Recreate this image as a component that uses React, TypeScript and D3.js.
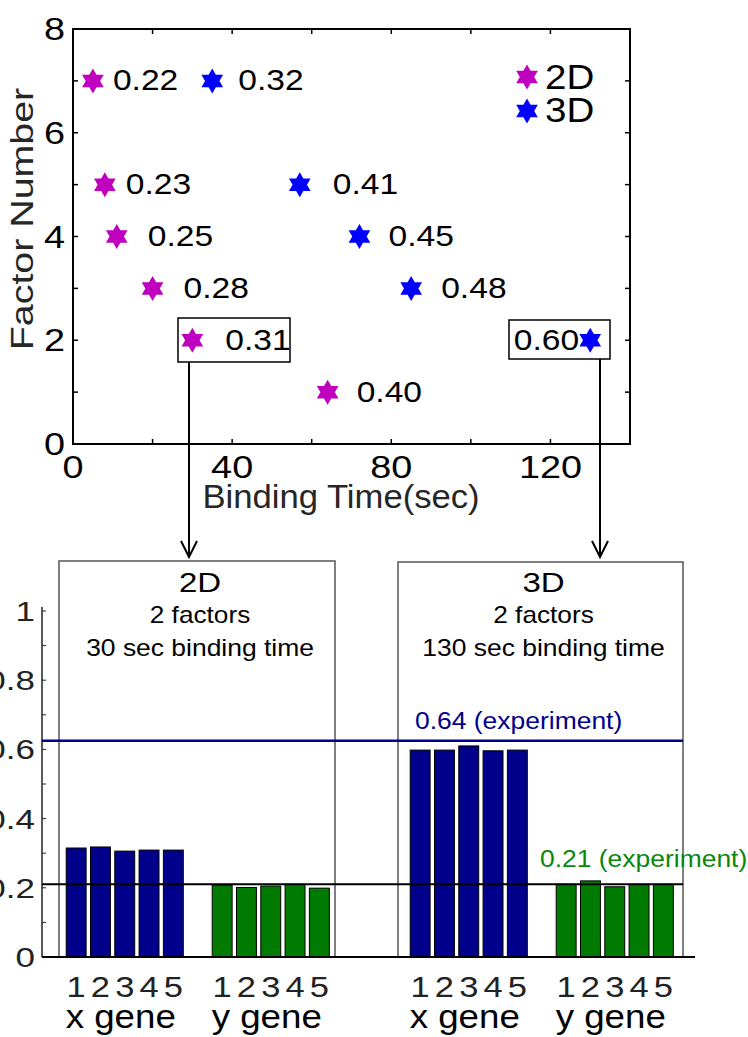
import { scaleLinear, scaleBand, lineRadial, curveLinearClosed, range } from "d3";

// top scatter: binding time vs factor number, labelled with correlation
const time2D = [5, 8, 11, 20, 30, 64];
const factors2D = [7, 5, 4, 3, 2, 1];
const corr2D = ["0.22", "0.23", "0.25", "0.28", "0.31", "0.40"];
const time3D = [35, 57, 72, 85, 130];
const factors3D = [7, 5, 4, 3, 2];
const corr3D = ["0.32", "0.41", "0.45", "0.48", "0.60"];
const xTickLabels = [0, 40, 80, 120];
const yTickLabels = [0, 2, 4, 6, 8];

// bottom bars
const runs = ["1", "2", "3", "4", "5"];
const genes = ["x gene", "y gene"];
const bars2Dx = [0.315, 0.318, 0.306, 0.309, 0.309];
const bars2Dy = [0.208, 0.201, 0.205, 0.21, 0.199];
const bars3Dx = [0.598, 0.598, 0.61, 0.596, 0.598];
const bars3Dy = [0.21, 0.22, 0.203, 0.21, 0.21];
const expX = 0.625;
const expY = 0.21;
const barTicks = [0, 0.2, 0.4, 0.6, 0.8, 1];

// label offsets from the star centre (annotation placement)
const gap2D = [20, 21, 31, 31, 33, 29];
const gap3D = [26, 33, 29, 30, -11];

const MAGENTA = "#bf00bf";
const BLUE = "#0000ff";
const NAVY = "#00008b";
const GREEN = "#007a00";

const star = (R: number) => {
  const r = R / Math.sqrt(3);
  const pts = range(12).map((i) => [(i * Math.PI) / 6, i % 2 ? r : R] as [number, number]);
  return lineRadial().curve(curveLinearClosed)(pts) as string;
};
const STAR = star(12.5);

function T({ x, y, size, sx = 1, anchor = "start", fill = "#000", rotate = 0, children }: any) {
  return (
    <text
      transform={`translate(${x},${y})${rotate ? ` rotate(${rotate})` : ""} scale(${sx},1)`}
      fontSize={size}
      textAnchor={anchor}
      fill={fill}
    >
      {children}
    </text>
  );
}

function Scatter() {
  const x = scaleLinear().domain([0, 140]).range([73, 630]);
  const y = scaleLinear().domain([0, 8]).range([444, 29]);
  const xt = range(20, 140, 20);
  const yt = range(1, 8);
  return (
    <g>
      <rect x={73} y={29} width={557} height={415} fill="none" stroke="#000" strokeWidth={2} />
      {xt.map((t) => (
        <g key={"xt" + t} stroke="#000" strokeWidth={1.5}>
          <line x1={x(t)} x2={x(t)} y1={444} y2={439} />
          <line x1={x(t)} x2={x(t)} y1={29} y2={34} />
        </g>
      ))}
      {yt.map((t) => (
        <g key={"yt" + t} stroke="#000" strokeWidth={1.5}>
          <line x1={73} x2={78} y1={y(t)} y2={y(t)} />
          <line x1={630} x2={625} y1={y(t)} y2={y(t)} />
        </g>
      ))}
      {xTickLabels.map((t) => (
        <T key={"xl" + t} x={x(t)} y={478} size={31} sx={1.22} anchor="middle">
          {t}
        </T>
      ))}
      {yTickLabels.map((t) => (
        <T key={"yl" + t} x={65} y={y(t) + 11} size={31} sx={1.22} anchor="end">
          {t}
        </T>
      ))}
      <T x={33} y={219} size={32} sx={1.23} rotate={-90} anchor="middle" fill="#262626">
        Factor Number
      </T>
      <T x={341} y={508} size={33} sx={1.05} anchor="middle" fill="#262626">
        Binding Time(sec)
      </T>

      {time2D.map((t, i) => (
        <g key={"p2" + i}>
          <path d={STAR} transform={`translate(${x(t)},${y(factors2D[i])})`} fill={MAGENTA} />
          <T x={x(t) + gap2D[i]} y={y(factors2D[i]) + 9.5} size={30} sx={1.12}>
            {corr2D[i]}
          </T>
        </g>
      ))}
      {time3D.map((t, i) => (
        <g key={"p3" + i}>
          <path d={STAR} transform={`translate(${x(t)},${y(factors3D[i])})`} fill={BLUE} />
          <T
            x={x(t) + gap3D[i]}
            y={y(factors3D[i]) + 9.5}
            size={30}
            sx={1.12}
            anchor={gap3D[i] < 0 ? "end" : "start"}
          >
            {corr3D[i]}
          </T>
        </g>
      ))}

      {/* legend */}
      <path d={STAR} transform="translate(527,77)" fill={MAGENTA} />
      <path d={STAR} transform="translate(527,111)" fill={BLUE} />
      <T x={545} y={89} size={35} sx={1.1}>2D</T>
      <T x={545} y={122} size={35} sx={1.1}>3D</T>

      {/* callout boxes and arrows */}
      <rect x={178} y={318} width={112} height={44} fill="none" stroke="#000" strokeWidth={1.5} />
      <rect x={509} y={320} width={101} height={39} fill="none" stroke="#000" strokeWidth={1.5} />
      <g stroke="#000" strokeWidth={2} fill="none">
        <line x1={189} x2={189} y1={362} y2={556} />
        <polyline points="181,541 189,557 197,541" />
        <line x1={600} x2={600} y1={359} y2={556} />
        <polyline points="592,541 600,557 608,541" />
      </g>
    </g>
  );
}

function Panel({ left, boxL, boxR, top, title, sub, time, xs, ys }: any) {
  const yb = scaleLinear().domain([0, 1]).range([957, 611]);
  const gs = scaleBand().domain(genes).range([0, 267.5]).paddingInner(0.168);
  const bs = scaleBand().domain(runs).range([0, gs.bandwidth()]).paddingInner(0.18).paddingOuter(0.09);
  const series = [xs, ys];
  const fills = [NAVY, GREEN];
  const cx = (boxL + boxR) / 2 + 3;
  return (
    <g>
      <path d={`M${boxL},957V${top}H${boxR}V957`} fill="none" stroke="#555" strokeWidth={1.5} />
      <T x={cx} y={592} size={28} sx={1.18} anchor="middle">{title}</T>
      <T x={cx} y={623} size={23} sx={1.14} anchor="middle">{sub}</T>
      <T x={cx} y={656} size={23} sx={1.15} anchor="middle">{time}</T>
      {genes.map((g, gi) => (
        <g key={g} transform={`translate(${left + (gs(g) as number)},0)`}>
          {runs.map((r, i) => (
            <rect
              key={r}
              x={bs(r)}
              y={yb(series[gi][i])}
              width={bs.bandwidth()}
              height={957 - yb(series[gi][i])}
              fill={fills[gi]}
              stroke="#000"
              strokeWidth={1}
            />
          ))}
          {runs.map((r) => (
            <T key={"l" + r} x={(bs(r) as number) + bs.bandwidth() / 2} y={997} size={30} sx={1.15} anchor="middle" fill="#222">
              {r}
            </T>
          ))}
          <T x={gs.bandwidth() / 2 - 4} y={1028} size={34} sx={1.08} anchor="middle">
            {g}
          </T>
        </g>
      ))}
    </g>
  );
}

function Bars() {
  const yb = scaleLinear().domain([0, 1]).range([957, 611]);
  const minor = range(0, 11).map((i) => i / 10);
  return (
    <g>
      <Panel left={64} boxL={59} boxR={335} top={561} title="2D" sub="2 factors" time="30 sec binding time" xs={bars2Dx} ys={bars2Dy} />
      <Panel left={408} boxL={398} boxR={683} top={562} title="3D" sub="2 factors" time="130 sec binding time" xs={bars3Dx} ys={bars3Dy} />
      <line x1={42} x2={42} y1={607} y2={957} stroke="#222" strokeWidth={1.5} />
      {minor.map((t) => (
        <line key={t} x1={42} x2={46} y1={yb(t)} y2={yb(t)} stroke="#222" strokeWidth={1} />
      ))}
      {barTicks.map((t) => (
        <T key={"bt" + t} x={35} y={yb(t) + 10} size={28} sx={1.25} anchor="end" fill="#222">
          {t}
        </T>
      ))}
      <line x1={42} x2={695} y1={957} y2={957} stroke="#000" strokeWidth={2} />
      <line x1={42} x2={683} y1={yb(expX)} y2={yb(expX)} stroke={NAVY} strokeWidth={2.5} />
      <line x1={42} x2={683} y1={yb(expY)} y2={yb(expY)} stroke="#000" strokeWidth={2} />
      <T x={415} y={729} size={24.5} sx={1.08} fill={NAVY}>0.64 (experiment)</T>
      <T x={540} y={867} size={24.5} sx={1.08} fill="#0a870a">0.21 (experiment)</T>
    </g>
  );
}

export default function App() {
  return (
    <svg
      width={748}
      height={1037}
      style={{ position: "absolute", left: 0, top: 0, background: "#fff" }}
      fontFamily="'Liberation Sans', Arial, sans-serif"
    >
      <rect width={748} height={1037} fill="#fff" />
      <Scatter />
      <Bars />
    </svg>
  );
}
